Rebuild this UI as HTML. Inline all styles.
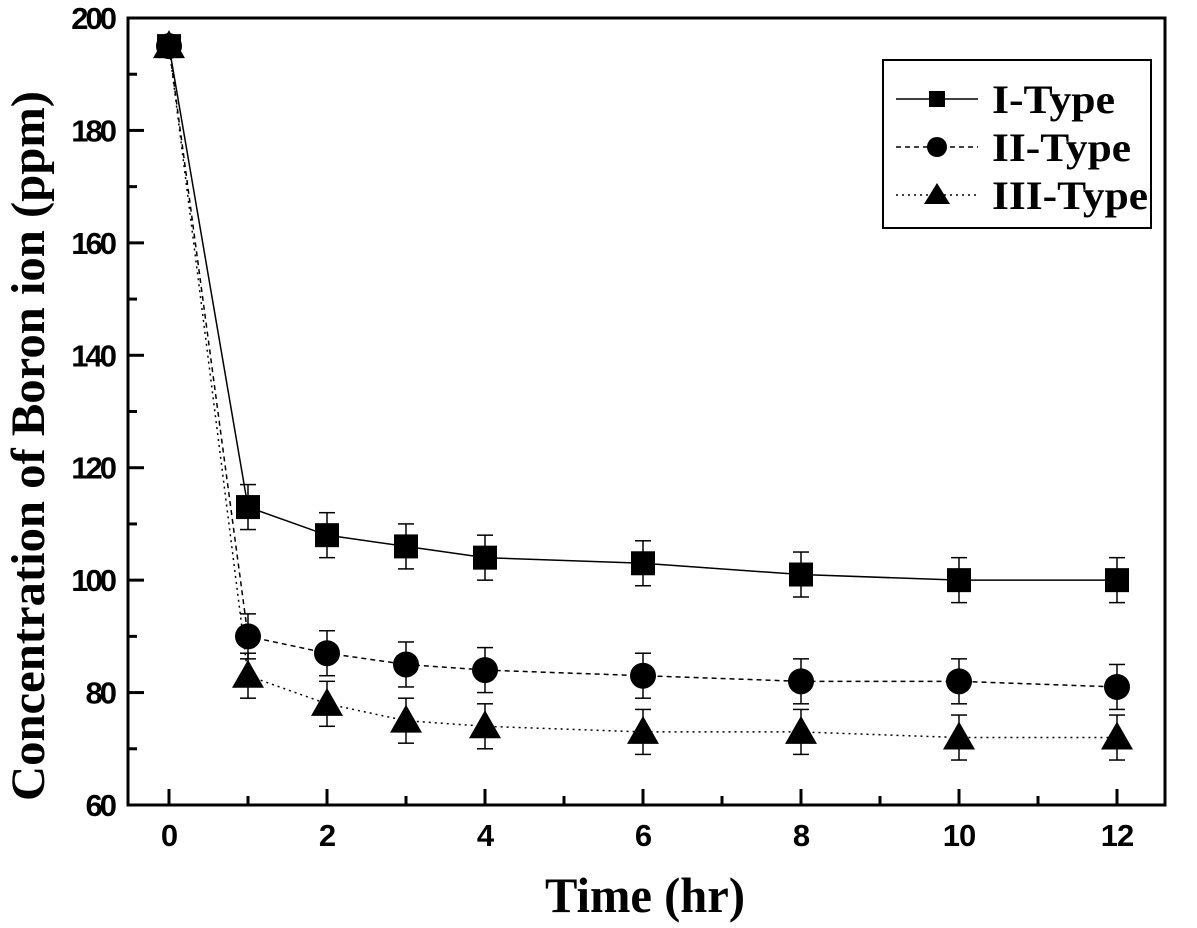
<!DOCTYPE html>
<html><head><meta charset="utf-8"><style>body{margin:0;background:#fff}svg{display:block}</style></head>
<body>
<svg id="chart" width="1197" height="928" xmlns="http://www.w3.org/2000/svg"></svg>
<script>
const xs=[0,1,2,3,4,6,8,10,12];
const seriesI=[195,113,108,106,104,103,101,100,100];
const seriesII=[195,90,87,85,84,83,82,82,81];
const seriesIII=[195,83,78,75,74,73,73,72,72];
const errI=[1,4,4,4,4,4,4,4,4];
const errII=[1,4,4,4,4,4,4,4,4];
const errIII=[1,4,4,4,4,4,4,4,4];
const xTicks=[0,2,4,6,8,10,12];
const yTicks=[60,80,100,120,140,160,180,200];
const L=128,R=1165,T=18,B=805;
const X=v=>169+(v)*79;
const Y=v=>B-(v-60)/140*(B-T);
const svg=document.getElementById('chart');
const NS='http://www.w3.org/2000/svg';
function mk(tag,attrs,parent){const e=document.createElementNS(NS,tag);for(const k in attrs)e.setAttribute(k,attrs[k]);(parent||svg).appendChild(e);return e;}
let fr=mk('rect',{x:L,y:T,width:R-L,height:B-T,fill:'none',stroke:'#000','stroke-width':3});


for(let v=0;v<=12;v++){const major=v%2===0;let t=mk('line',{x1:X(v),x2:X(v),y1:B,y2:B-(major?16:9),stroke:'#000','stroke-width':3});

}
xTicks.forEach(v=>{let t=mk('text',{x:X(v),y:B+41,'text-anchor':'middle','font-family':'Liberation Sans, sans-serif','font-weight':'bold','font-size':31,'letter-spacing':-1});t.textContent=v;

});
for(let v=60;v<=200;v+=10){const major=v%20===0;let t=mk('line',{x1:L,x2:L+(major?16:9),y1:Y(v),y2:Y(v),stroke:'#000','stroke-width':3});

}
yTicks.forEach(v=>{let t=mk('text',{x:L-14,y:Y(v)+11,'text-anchor':'end','font-family':'Liberation Sans, sans-serif','font-weight':'bold','font-size':31,'letter-spacing':-3});t.textContent=v;

});
let xt=mk('text',{x:645,y:912,'text-anchor':'middle','font-family':'Liberation Serif, serif','font-weight':'bold','font-size':50,textLength:200,lengthAdjust:'spacingAndGlyphs'});xt.textContent='Time (hr)';


let yt=mk('text',{x:0,y:0,'text-anchor':'middle','font-family':'Liberation Serif, serif','font-weight':'bold','font-size':48,textLength:710,lengthAdjust:'spacingAndGlyphs',transform:'translate(44,446) rotate(-90)'});yt.textContent='Concentration of Boron ion (ppm)';


function marker(kind,cx,cy,g){
 if(kind==='sq')return mk('rect',{x:cx-12,y:cy-12,width:24,height:24,fill:'#000'},g);
 if(kind==='ci')return mk('circle',{cx:cx,cy:cy,r:13,fill:'#000'},g);
 return mk('polygon',{points:`${cx},${cy-16} ${cx+16},${cy+12} ${cx-16},${cy+12}`,fill:'#000'},g);
}
const series=[[seriesI,errI,'sq','none','series-i-type'],[seriesII,errII,'ci','5,4','series-ii-type'],[seriesIII,errIII,'tr','2,4','series-iii-type']];
series.forEach(([d,e,k,dash,name])=>{
 const g=mk('g',{});
 
 
 const pts=xs.map((x,i)=>X(x)+','+Y(d[i])).join(' ');
 mk('polyline',{points:pts,fill:'none',stroke:'#000','stroke-width':1.5,'stroke-dasharray':dash},g);
 xs.forEach((x,i)=>{
  const cx=X(x),y1=Y(d[i]+e[i]),y2=Y(d[i]-e[i]);
  mk('line',{x1:cx,x2:cx,y1:y1,y2:y2,stroke:'#000','stroke-width':1.5},g);
  mk('line',{x1:cx-8,x2:cx+8,y1:y1,y2:y1,stroke:'#000','stroke-width':1.5},g);
  mk('line',{x1:cx-8,x2:cx+8,y1:y2,y2:y2,stroke:'#000','stroke-width':1.5},g);
  let m=marker(k,cx,Y(d[i]),g);
  
  
 });
});
const lg=mk('g',{});


mk('rect',{x:883,y:60,width:268,height:168,fill:'#fff',stroke:'#000','stroke-width':2},lg);
const labels=['I-Type','II-Type','III-Type'];
const lens=[123,139,156];
[['sq','none'],['ci','5,4'],['tr','2,4']].forEach(([k,dash],i)=>{
 const cy=99+i*48;
 const e=mk('g',{},lg);
 
 
 mk('line',{x1:896,x2:978,y1:cy,y2:cy,stroke:'#000','stroke-width':1.5,'stroke-dasharray':dash},e);
 const m=k==='sq'?mk('rect',{x:929,y:cy-8,width:16,height:16,fill:'#000'},e):k==='ci'?mk('circle',{cx:937,cy:cy,r:10,fill:'#000'},e):mk('polygon',{points:`937,${cy-12} 950,${cy+9} 924,${cy+9}`,fill:'#000'},e);
 const t=mk('text',{x:992,y:cy+14,'font-family':'Liberation Serif, serif','font-weight':'bold','font-size':40,textLength:lens[i],lengthAdjust:'spacingAndGlyphs'},e);t.textContent=labels[i];
});
</script>
</body></html>
